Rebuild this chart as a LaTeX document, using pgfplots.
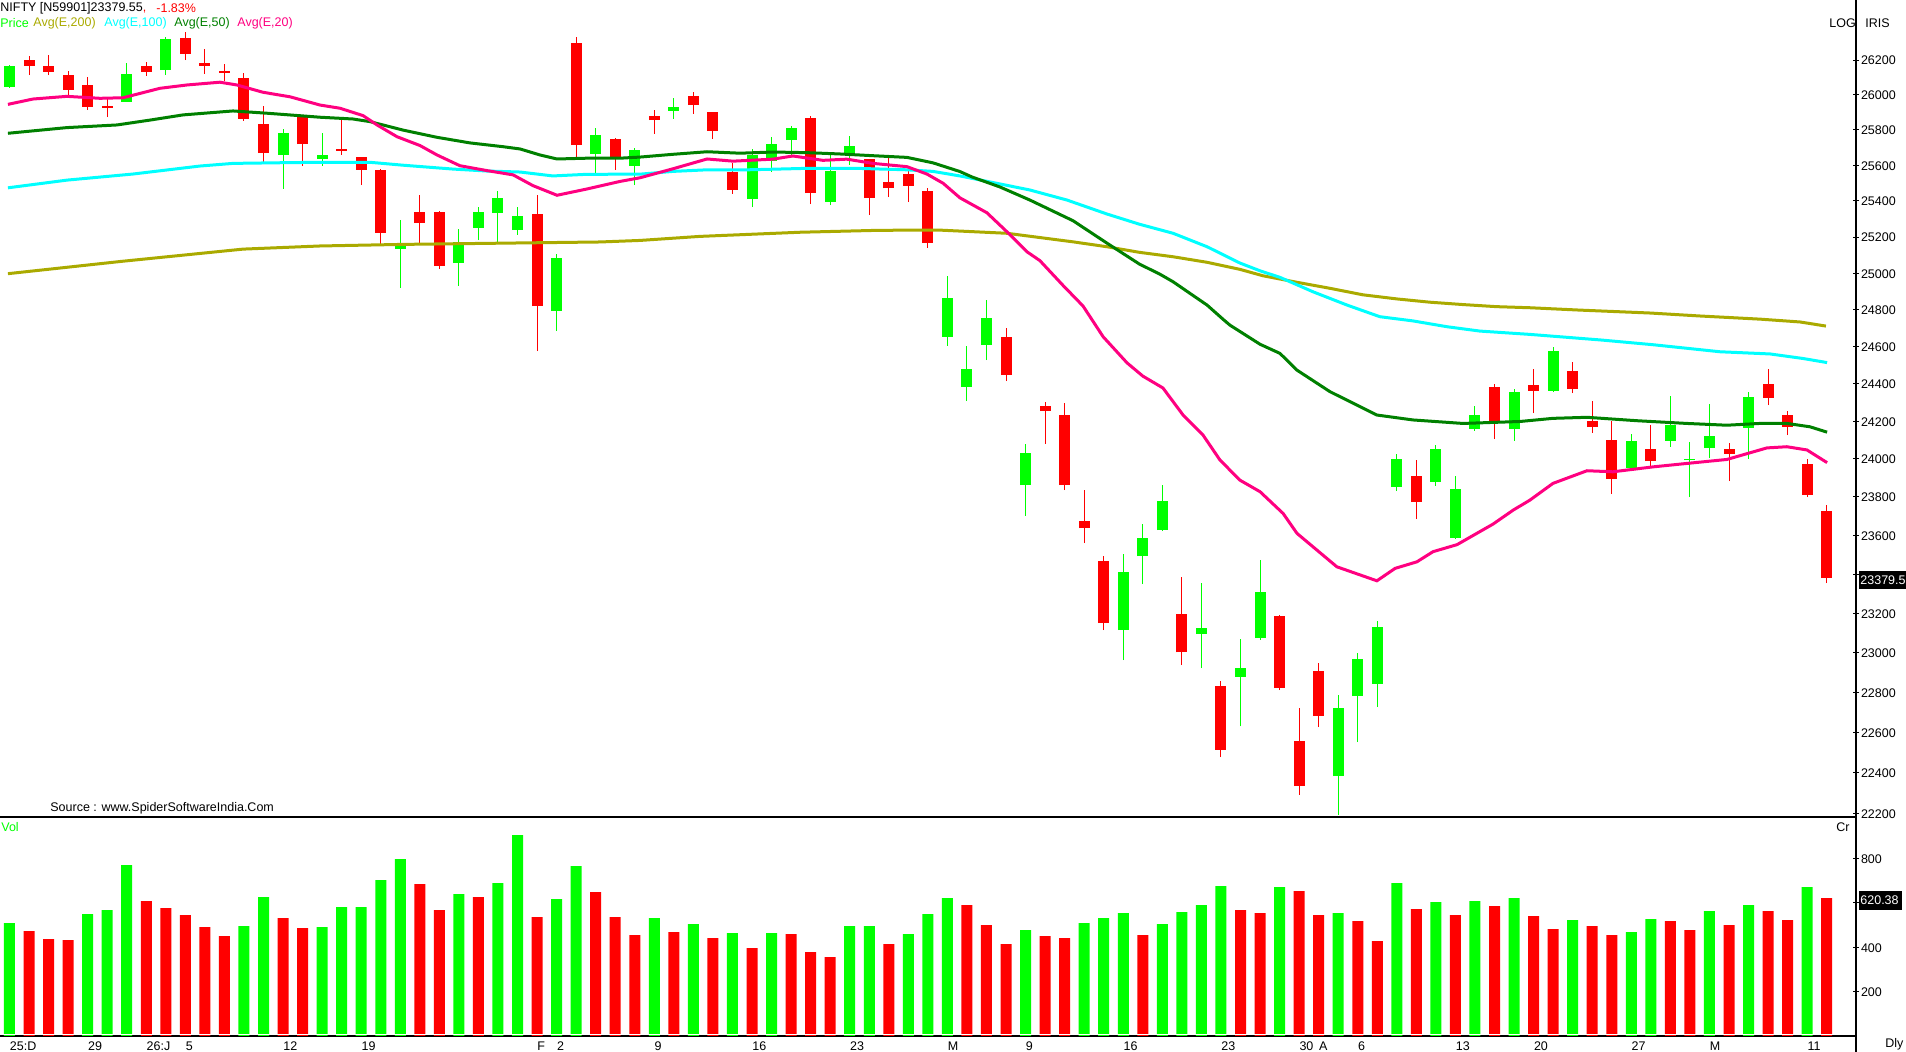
\documentclass[border=0pt]{standalone}
\usepackage{pgfplots}
\pgfplotsset{compat=1.18}
\usepackage{fontspec}
\setmainfont{Liberation Sans}
\definecolor{cG}{RGB}{0,255,0}
\definecolor{cR}{RGB}{255,0,0}
\definecolor{cOl}{RGB}{170,170,0}
\definecolor{cCy}{RGB}{0,255,255}
\definecolor{cDg}{RGB}{0,128,0}
\definecolor{cPk}{RGB}{255,0,128}
\newcommand\fnt{\fontsize{6.25}{7.5}\selectfont}
% candle: index, high, low, body top, body bottom
\newcommand\candle[6]{%
 \addplot[#1,line width=.5pt,forget plot] coordinates {(#2,#4)(#2,#3)};%
 \addplot[#1,line width=5.5pt,forget plot] coordinates {(#2,#6)(#2,#5)};%
}
\newcommand\G[5]{\candle{cG}{#1}{#2}{#3}{#4}{#5}}
\newcommand\R[5]{\candle{cR}{#1}{#2}{#3}{#4}{#5}}
\newcommand\T[4]{\node[anchor=west,inner sep=0pt,text=#3,font=\fnt] at ({#1*0.5pt},{(1052-#2)*0.5pt}) {#4};}
\begin{document}
\begin{tikzpicture}
\useasboundingbox (0,0) rectangle (953pt,526pt);
\begin{axis}[
  at={(0pt,117.5pt)},anchor=south west,scale only axis,width=928pt,height=408.5pt,
  y coord trafo/.code={\begingroup\pgfkeys{/pgf/fpu=true,/pgf/fpu/output format=fixed}\pgfmathparse{1000*ln(#1/22000)}\pgfmathsmuggle\pgfmathresult\endgroup},
  xmin=-0.486,xmax=94.5,ymin=22182,ymax=26548,
  axis x line=bottom,axis y line=right,axis line style={-,black,line width=.6pt},
  xtick=\empty,
  ytick={22200,22400,22600,22800,23000,23200,23400,23600,23800,24000,24200,24400,24600,24800,25000,25200,25400,25600,25800,26000,26200},
  yticklabels={22200,22400,22600,22800,23000,23200,{},23600,23800,24000,24200,24400,24600,24800,25000,25200,25400,25600,25800,26000,26200},
  tick align=center,major tick length=3pt,tick style={black,line width=.5pt},
  yticklabel style={font=\fnt,anchor=west,inner sep=0pt,xshift=0.8pt,yshift=-0.3pt},
  minor tick num=0,
]
\G{0}{26171}{26039}{26165}{26045}
\R{1}{26222}{26113}{26199}{26165}
\R{2}{26228}{26113}{26165}{26131}
\R{3}{26136}{25993}{26113}{26028}
\R{4}{26102}{25913}{26056}{25930}
\R{5}{25976}{25873}{25936}{25925}
\G{6}{26182}{25959}{26119}{25959}
\R{7}{26188}{26108}{26165}{26131}
\G{8}{26332}{26113}{26321}{26142}
\R{9}{26361}{26199}{26327}{26234}
\R{10}{26263}{26119}{26182}{26165}
\R{11}{26176}{26079}{26136}{26125}
\R{12}{26125}{25851}{26096}{25862}
\R{13}{25936}{25619}{25834}{25669}
\G{14}{25805}{25467}{25782}{25658}
\R{15}{25885}{25596}{25873}{25720}
\G{16}{25782}{25596}{25658}{25636}
\R{17}{25856}{25658}{25692}{25681}
\R{18}{25647}{25489}{25647}{25574}
\R{19}{25579}{25161}{25574}{25222}
\G{20}{25294}{24919}{25166}{25133}
\R{21}{25433}{25166}{25338}{25277}
\R{22}{25344}{25023}{25338}{25039}
\G{23}{25244}{24930}{25172}{25056}
\G{24}{25366}{25183}{25338}{25249}
\G{25}{25456}{25166}{25416}{25333}
\G{26}{25366}{25211}{25316}{25238}
\R{27}{25433}{24576}{25327}{24820}
\G{28}{25106}{24684}{25084}{24793}
\R{29}{26332}{25641}{26298}{25715}
\G{30}{25811}{25557}{25771}{25664}
\R{31}{25754}{25574}{25749}{25647}
\G{32}{25698}{25489}{25686}{25596}
\R{33}{25913}{25777}{25879}{25856}
\G{34}{25982}{25862}{25930}{25908}
\R{35}{26016}{25891}{25993}{25942}
\R{36}{25902}{25749}{25902}{25794}
\R{37}{25613}{25439}{25562}{25461}
\G{38}{25692}{25366}{25658}{25411}
\G{39}{25760}{25562}{25720}{25624}
\G{40}{25822}{25658}{25811}{25743}
\R{41}{25879}{25383}{25868}{25444}
\G{42}{25658}{25377}{25568}{25394}
\G{43}{25766}{25602}{25709}{25669}
\R{44}{25636}{25322}{25636}{25416}
\R{45}{25647}{25422}{25506}{25472}
\R{46}{25568}{25394}{25551}{25484}
\R{47}{25472}{25139}{25456}{25166}
\G{48}{24984}{24603}{24864}{24652}
\G{49}{24603}{24307}{24479}{24382}
\G{50}{24853}{24527}{24755}{24608}
\R{51}{24701}{24414}{24652}{24446}
\G{52}{24079}{23700}{24031}{23862}
\R{53}{24302}{24079}{24281}{24254}
\R{54}{24297}{23836}{24233}{23862}
\R{55}{23836}{23560}{23674}{23637}
\R{56}{23492}{23113}{23467}{23149}
\G{57}{23503}{22961}{23410}{23113}
\G{58}{23658}{23348}{23586}{23492}
\G{59}{23862}{23622}{23778}{23627}
\R{60}{23384}{22936}{23195}{23001}
\G{61}{23353}{22921}{23124}{23093}
\R{62}{22856}{22477}{22831}{22512}
\G{63}{23068}{22630}{22921}{22876}
\G{64}{23471}{23063}{23307}{23073}
\R{65}{23190}{22811}{23185}{22821}
\R{66}{22720}{22290}{22556}{22334}
\R{67}{22946}{22625}{22906}{22680}
\G{68}{22785}{22192}{22720}{22383}
\G{69}{22996}{22551}{22966}{22780}
\G{70}{23159}{22725}{23129}{22841}
\G{71}{24026}{23831}{23999}{23852}
\R{72}{23994}{23684}{23910}{23773}
\G{73}{24074}{23857}{24052}{23878}
\G{74}{23910}{23580}{23841}{23586}
\G{75}{24281}{24148}{24233}{24158}
\R{76}{24398}{24105}{24382}{24190}
\G{77}{24371}{24095}{24355}{24158}
\R{78}{24479}{24243}{24393}{24361}
\G{79}{24597}{24355}{24576}{24361}
\R{80}{24516}{24350}{24468}{24371}
\R{81}{24307}{24137}{24201}{24169}
\R{82}{24201}{23815}{24100}{23894}
\G{83}{24132}{23936}{24095}{23952}
\R{84}{24179}{23962}{24052}{23988}
\G{85}{24334}{24063}{24179}{24095}
\G{86}{24089}{23799}{23999}{23994}
\G{87}{24291}{24005}{24121}{24057}
\R{88}{24084}{23883}{24052}{24026}
\G{89}{24355}{23999}{24329}{24163}
\R{90}{24479}{24286}{24398}{24323}
\R{91}{24254}{24126}{24233}{24169}
\R{92}{23999}{23799}{23973}{23810}
\R{93}{23757}{23353}{23726}{23379.55}
% EMA 200
\addplot[cOl,line width=1.5pt,forget plot] coordinates {
(-0.08,24998)(5.76,25065)(11.95,25133)(15.89,25150)(20.14,25159)(25.62,25166)(30.22,25172)(32.27,25181)(35.34,25203)(40.46,25226)(44.54,25237)(47.6,25238)(51.05,25220)(54.43,25173)(56.17,25146)(57.83,25115)(59.55,25091)(61.29,25060)(62.97,25021)(64.15,24986)(65.9,24950)(67.58,24917)(69.27,24881)(71,24859)(72.69,24841)(74.38,24828)(76.1,24817)(77.81,24811)(80.37,24798)(83.96,24782)(86.5,24766)(89.6,24749)(91.64,24733)(92.96,24711)};
% EMA 100
\addplot[cCy,line width=1.5pt,forget plot] coordinates {
(-0.08,25474)(2.94,25517)(6.32,25551)(9.75,25596)(11.44,25611)(14,25615)(15.89,25617)(18.45,25617)(20.14,25600)(22.7,25579)(24.44,25568)(26.13,25562)(27.81,25540)(29.55,25549)(32.27,25550)(33.96,25566)(35.7,25575)(37.39,25574)(39.07,25578)(40.81,25583)(43.37,25583)(45.93,25575)(47.26,25566)(48.64,25540)(50.69,25495)(52.22,25461)(54.12,25405)(56.17,25327)(57.83,25270)(59.55,25220)(61.29,25146)(62.97,25056)(64,25013)(65.02,24977)(66.71,24898)(68.45,24826)(70.13,24762)(71.82,24739)(73.56,24708)(75.25,24684)(77.81,24666)(81.5,24635)(84.11,24610)(87.54,24572)(90.1,24560)(91.79,24536)(93.02,24513)};
% EMA 50
\addplot[cDg,line width=1.5pt,forget plot] coordinates {
(-0.08,25781)(2.94,25813)(5.5,25828)(7.19,25856)(8.88,25885)(11.44,25908)(13.18,25895)(15.89,25872)(17.58,25862)(18.45,25847)(20.14,25799)(21.88,25758)(23.57,25726)(25.26,25705)(26.13,25692)(27.15,25658)(28.02,25636)(29.55,25640)(31.24,25640)(32.27,25646)(33.96,25662)(35.7,25677)(37.39,25668)(39.07,25675)(40.81,25671)(42.5,25664)(44.19,25654)(45.93,25645)(47.26,25614)(48.64,25565)(49.26,25534)(50.69,25478)(52.22,25405)(54.43,25290)(56.17,25165)(57.83,25050)(58.87,24995)(59.55,24953)(60.42,24889)(61.29,24825)(62.11,24748)(62.46,24716)(64,24613)(65.02,24563)(65.89,24473)(67.58,24357)(69.98,24233)(71.82,24206)(74.38,24188)(77.3,24198)(78.99,24215)(80.73,24220)(83.29,24202)(85.85,24188)(87.89,24178)(89.58,24188)(90.96,24188)(92.14,24170)(93.02,24141)};
% EMA 20
\addplot[cPk,line width=1.5pt,forget plot] coordinates {
(-0.08,25946)(1.2,25976)(2.94,25991)(4.63,25980)(5.81,25983)(7.7,26037)(9.08,26056)(10.77,26072)(11.64,26056)(12.97,26014)(14.35,25989)(15.89,25942)(16.91,25923)(18.09,25881)(18.81,25828)(19.83,25762)(21.01,25711)(21.88,25658)(23.05,25598)(24.44,25570)(25.77,25546)(26.79,25486)(28.02,25432)(29.55,25467)(31.24,25510)(32.27,25530)(33.96,25581)(35.7,25636)(37.03,25623)(39.07,25634)(40.09,25653)(41.63,25628)(42.85,25634)(44.19,25611)(45.93,25592)(46.95,25551)(47.78,25499)(48.64,25418)(50.02,25334)(51.05,25229)(52.07,25118)(52.73,25069)(53.91,24934)(54.94,24820)(55.97,24653)(57.19,24512)(58,24441)(59.03,24377)(60.06,24233)(61.08,24126)(61.95,23994)(62.97,23888)(64,23827)(65.18,23714)(65.89,23610)(67.93,23437)(69.98,23365)(70.91,23429)(72.03,23463)(72.85,23515)(74.08,23552)(75.92,23658)(76.95,23731)(77.81,23783)(78.99,23871)(80.73,23937)(82.06,23932)(84.11,23958)(85.85,23976)(87.89,23997)(89.94,24058)(90.96,24064)(91.99,24047)(93.02,23980)};
\end{axis}
\begin{axis}[
  at={(0pt,8pt)},anchor=south west,scale only axis,width=928pt,height=109.5pt,
  xmin=-0.486,xmax=94.5,ymin=0,ymax=986,
  axis x line=bottom,axis y line=right,axis line style={-,black,line width=.6pt},
  xtick={0,4,7,9,14,18,27,28,33,38,43,48,52,57,62,66,67,69,74,78,83,87,92},
  xticklabels={25:D,29,26:J,5,12,19,F,2,9,16,23,M,9,16,23,30,A,6,13,20,27,M,11},
  xtick style={draw=none},
  xticklabel style={font=\fnt,anchor=west,inner sep=0pt,yshift=-3.5pt},
  ytick={200,400,600,800},yticklabels={200,400,{},800},
  tick align=center,major tick length=3pt,ytick style={black,line width=.5pt},
  yticklabel style={font=\fnt,anchor=west,inner sep=0pt,xshift=0.8pt,yshift=-0.3pt},
]
\addplot[ybar,bar width=5.5pt,bar shift=0pt,fill=cG,draw=none,forget plot] coordinates {
(0,508)(4,549)(5,567)(6,769)(12,495)(13,625)(16,490)(17,580)(18,580)(19,702)(20,796)(23,639)(25,688)(26,904)(28,616)(29,765)(33,531)(35,504)(37,463)(39,463)(43,495)(44,495)(46,459)(47,549)(48,621)(52,477)(55,508)(56,531)(57,553)(59,504)(60,558)(61,589)(62,675)(65,670)(68,553)(71,688)(73,603)(75,607)(77,621)(80,522)(83,468)(84,526)(87,562)(89,589)(92,670)};
\addplot[ybar,bar width=5.5pt,bar shift=0pt,fill=cR,draw=none,forget plot] coordinates {
(1,472)(2,436)(3,432)(7,607)(8,576)(9,544)(10,490)(11,450)(14,531)(15,486)(21,684)(22,567)(24,625)(27,535)(30,648)(31,535)(32,454)(34,468)(36,441)(38,396)(40,459)(41,378)(42,355)(45,414)(49,589)(50,499)(51,414)(53,450)(54,441)(58,454)(63,567)(64,553)(66,652)(67,544)(69,517)(70,427)(72,571)(74,544)(76,585)(78,540)(79,481)(81,495)(82,454)(85,517)(86,477)(88,499)(90,562)(91,522)(93,620.38)};
\addplot[white,line width=.75pt,forget plot] coordinates {(-0.4,6)(93.9,6)};
\end{axis}
% right axis runs to the foot of the page
\draw[black,line width=.6pt] ({1856*0.5pt},8pt) -- ({1856*0.5pt},0pt);
% texts
\T{0}{8}{black}{NIFTY [N59901]23379.55\textcolor{cR}{,}}
\T{156}{8}{cR}{-1.83\%}
\T{0}{23.5}{cG}{Price}
\T{33}{23.5}{cOl}{Avg(E,200)}
\T{104}{23.5}{cCy}{Avg(E,100)}
\T{174}{23.5}{cDg}{Avg(E,50)}
\T{237}{23.5}{cPk}{Avg(E,20)}
\T{50}{808}{black}{Source : www.SpiderSoftwareIndia.Com}
\T{1}{827}{cG}{Vol}
\T{1836}{827}{black}{Cr}
\T{1829}{23}{black}{LOG}
\T{1865}{23}{black}{IRIS}
\T{1885}{1044}{black}{Dly}
\fill[black] ({1859*0.5pt},{(1052-571)*0.5pt}) rectangle ({1906*0.5pt},{(1052-589)*0.5pt});
\T{1860}{580}{white}{23379.5}
\fill[black] ({1859*0.5pt},{(1052-891)*0.5pt}) rectangle ({1902*0.5pt},{(1052-910)*0.5pt});
\T{1860}{900.5}{white}{620.38}
\end{tikzpicture}
\end{document}
